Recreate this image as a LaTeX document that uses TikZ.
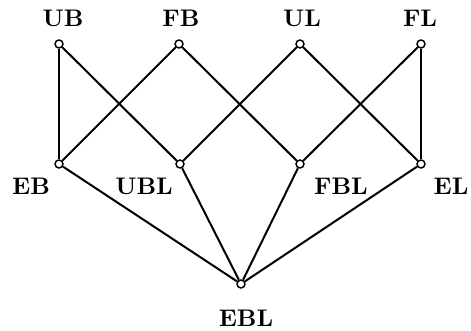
\documentclass[tikz,border=0pt]{standalone}
\usepackage{graphicx}
\usepackage{tikz}

\newcommand{\lab}[1]{\scalebox{1.8}{\bfseries #1}}

\tikzset{
  dot/.style={circle, draw, line width=1.1pt, fill=white, inner sep=0pt, minimum size=6pt},
  edge/.style={line width=1.5pt},
  lbl/.style={inner sep=0pt}
}

\begin{document}
\begin{tikzpicture}[x=0.75pt,y=0.75pt,yscale=-1,xscale=1]
\useasboundingbox (0,0) rectangle (471,331);

%Dots, top row
\node [dot] (UB) at (59,44) {};
\node [dot] (FB) at (179,44) {};
\node [dot] (UL) at (300,44) {};
\node [dot] (FL) at (421,44) {};
%Dots, middle row
\node [dot] (EB) at (59,164) {};
\node [dot] (UBL) at (180,164) {};
\node [dot] (FBL) at (300,164) {};
\node [dot] (EL) at (421,164) {};
%Dot, bottom
\node [dot] (EBL) at (241,284) {};

%Straight Lines
\draw [edge] (UB) -- (EB) ;
\draw [edge] (UB) -- (UBL) ;
\draw [edge] (FB) -- (EB) ;
\draw [edge] (FB) -- (FBL) ;
\draw [edge] (UL) -- (UBL) ;
\draw [edge] (UL) -- (EL) ;
\draw [edge] (FL) -- (FBL) ;
\draw [edge] (FL) -- (EL) ;
\draw [edge] (EB) -- (EBL) ;
\draw [edge] (UBL) -- (EBL) ;
\draw [edge] (FBL) -- (EBL) ;
\draw [edge] (EL) -- (EBL) ;

% Text Node
\node [lbl] (tUB) at (63,18) {\lab{UB}};
% Text Node
\node [lbl] (tFB) at (181,18) {\lab{FB}};
% Text Node
\node [lbl] (tUL) at (302,18) {\lab{UL}};
% Text Node
\node [lbl] (tFL) at (420,18) {\lab{FL}};
% Text Node
\node [lbl] (tEB) at (31,186) {\lab{EB}};
% Text Node
\node [lbl] (tUBL) at (144,186) {\lab{UBL}};
% Text Node
\node [lbl] (tFBL) at (341,186) {\lab{FBL}};
% Text Node
\node [lbl] (tEL) at (451,186) {\lab{EL}};
% Text Node
\node [lbl] (tEBL) at (246,318) {\lab{EBL}};

\end{tikzpicture}
\end{document}
